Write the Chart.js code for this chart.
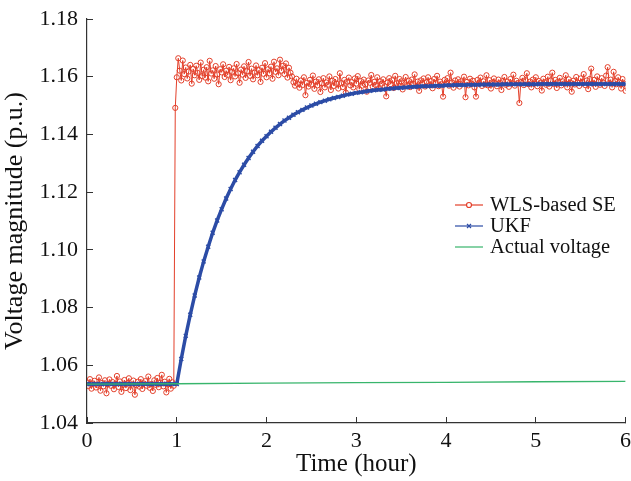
<!DOCTYPE html>
<html>
<head>
<meta charset="utf-8">
<script src="https://cdn.jsdelivr.net/npm/chart.js@4.4.0/dist/chart.umd.min.js"></script>
<style>
html,body{margin:0;padding:0;background:#fff;}
canvas{display:block;}
</style>
</head>
<body>
<canvas id="c" width="631" height="481"></canvas>
<script>
// ---- data ----
const xTicks = [0, 1, 2, 3, 4, 5, 6];
const yTicks = [1.04, 1.06, 1.08, 1.10, 1.12, 1.14, 1.16, 1.18];
const wlsStepHours = 1 / 60;   // one WLS estimate per minute
const ukfStepHours = 0.05;     // UKF samples every 3 minutes

const wlsValues = [
1.0541,1.0528,1.0552,1.0519,1.0537,1.0546,1.0523,1.0531,1.0558,1.0512,
1.0539,1.0527,1.0548,1.0503,1.0534,1.0551,1.0529,1.0542,1.0517,1.0536,
1.0563,1.0525,1.0544,1.0508,1.0532,1.0549,1.0521,1.0538,1.0555,1.0514,
1.0533,1.0547,1.0498,1.0531,1.0543,1.0526,1.0552,1.0518,1.0537,1.0545,
1.0529,1.0561,1.0522,1.0535,1.0511,1.0548,1.0532,1.0556,1.0524,1.0539,
1.0567,1.0527,1.0543,1.0506,1.0535,1.0553,1.0519,1.0541,1.0529,
1.1492,
1.1598,1.1664,1.1621,1.1587,1.1656,1.1609,1.1632,1.1594,1.1618,1.1641,
1.1576,1.1627,1.1605,1.1638,1.1613,1.1589,1.1649,1.1602,1.1624,1.1597,
1.1633,1.1584,1.1655,1.1611,1.1622,1.1593,1.1637,1.1608,1.1574,1.1626,
1.1615,1.1643,1.1599,1.1621,1.1606,1.1634,1.1588,1.1617,1.1629,1.1601,
1.1644,1.1612,1.1579,1.1625,1.1607,1.1636,1.1596,1.1619,1.1651,1.1603,
1.1628,1.1591,1.1614,1.1639,1.1605,1.1623,1.1582,1.1631,1.1610,1.1647,
1.1598,1.1626,1.1612,1.1635,1.1593,1.1652,1.1617,1.1629,1.1605,1.1659,
1.1621,1.1638,1.1609,1.1646,1.1597,1.1631,1.1614,1.1601,
1.1581,1.1569,1.1593,1.1574,1.1562,1.1587,1.1571,1.1598,1.1536,1.1579,
1.1566,1.1589,1.1573,1.1604,1.1558,1.1583,1.1570,1.1591,1.1547,1.1577,
1.1595,1.1563,1.1580,1.1572,1.1601,1.1554,1.1586,1.1568,1.1592,1.1575,
1.1559,1.1612,1.1578,1.1564,1.1589,1.1545,1.1583,1.1597,1.1570,1.1581,
1.1563,1.1594,1.1576,1.1602,1.1557,1.1585,1.1569,1.1590,1.1573,1.1548,
1.1587,1.1579,1.1606,1.1565,1.1582,1.1571,1.1598,1.1560,1.1584,1.1576,
1.1591,1.1567,1.1532,1.1580,1.1595,1.1574,1.1588,1.1561,1.1603,1.1577,
1.1569,1.1592,1.1584,1.1556,1.1579,1.1599,1.1572,1.1586,1.1564,1.1590,
1.1575,1.1608,1.1568,1.1583,1.1551,1.1587,1.1577,1.1594,1.1566,1.1581,
1.1598,1.1571,1.1585,1.1560,1.1592,1.1578,1.1603,1.1567,1.1583,1.1574,
1.1531,1.1589,1.1576,1.1595,1.1569,1.1614,1.1580,1.1562,1.1587,1.1573,
1.1591,1.1566,1.1584,1.1577,1.1600,1.1529,1.1582,1.1570,1.1593,1.1575,
1.1586,1.1563,1.1531,1.1589,1.1578,1.1597,1.1568,1.1584,1.1573,1.1605,
1.1570,1.1588,1.1559,1.1581,1.1594,1.1576,1.1567,1.1590,1.1579,1.1554,
1.1585,1.1599,1.1572,1.1583,1.1565,1.1592,1.1577,1.1607,1.1569,1.1586,
1.1578,1.1509,1.1581,1.1596,1.1571,1.1588,1.1612,1.1574,1.1583,1.1563,
1.1590,1.1576,1.1598,1.1567,1.1585,1.1579,1.1552,1.1593,1.1581,1.1572,
1.1600,1.1566,1.1587,1.1614,1.1575,1.1589,1.1561,1.1583,1.1596,1.1570,
1.1584,1.1577,1.1605,1.1563,1.1591,1.1580,1.1548,1.1586,1.1573,1.1599,
1.1579,1.1568,1.1594,1.1582,1.1609,1.1571,1.1587,1.1557,1.1592,1.1628,
1.1576,1.1589,1.1565,1.1601,1.1583,1.1572,1.1595,1.1580,1.1568,1.1604,
1.1633,1.1578,1.1590,1.1563,1.1617,1.1585,1.1574,1.1598,1.1581,1.1559,
1.1592,1.1576,1.1551
];

const ukfValues = [
1.0535,1.0535,1.0535,1.0535,1.0535,1.0535,1.0535,1.0535,1.0535,1.0535,
1.0535,1.0535,1.0535,1.0535,1.0535,1.0535,1.0535,1.0535,1.0535,1.0535,
1.0535,1.0622,1.0702,1.0775,1.0842,1.0904,1.0960,1.1011,1.1059,1.1102,
1.1141,1.1178,1.1211,1.1242,1.1269,1.1295,1.1318,1.1340,1.1360,1.1378,
1.1394,1.1409,1.1423,1.1436,1.1448,1.1458,1.1468,1.1477,1.1485,1.1493,
1.1500,1.1506,1.1512,1.1517,1.1522,1.1526,1.1530,1.1534,1.1538,1.1541,
1.1544,1.1546,1.1549,1.1551,1.1553,1.1555,1.1556,1.1558,1.1559,1.1561,
1.1562,1.1563,1.1564,1.1565,1.1566,1.1567,1.1567,1.1568,1.1569,1.1569,
1.1570,1.1570,1.1571,1.1571,1.1571,1.1572,1.1572,1.1572,1.1573,1.1573,
1.1573,1.1573,1.1573,1.1574,1.1574,1.1574,1.1574,1.1574,1.1574,1.1574,
1.1574,1.1575,1.1575,1.1575,1.1575,1.1575,1.1575,1.1575,1.1575,1.1575,
1.1575,1.1575,1.1575,1.1575,1.1575,1.1575,1.1575,1.1575,1.1575,1.1575,
1.1575
];

const actualHours  = [0, 1, 2, 3, 4, 5, 6];
const actualValues = [1.0535, 1.0536, 1.0538, 1.0540, 1.0541, 1.0543, 1.0544];

const seriesNames = ['WLS-based SE', 'UKF', 'Actual voltage'];

// ---- build library data ----
const wlsData = wlsValues.map((v, i) => ({x: i * wlsStepHours, y: v}));
const ukfData = ukfValues.map((v, i) => ({x: i * ukfStepHours, y: v}));
const actualData = actualValues.map((v, i) => ({x: actualHours[i], y: v}));

const RED = '#e3402b', BLUE = '#2c4ca6', GREEN = '#38b56c', AXIS = '#333333';
const FONT = '"Liberation Serif", "Times New Roman", serif';

const legendPlugin = {
  id: 'customLegend',
  afterDraw(chart) {
    const ctx = chart.ctx;
    const x0 = 455, x1 = 483, tx = 490;
    const ys = [205, 226, 247];
    ctx.save();
    ctx.font = '20.5px ' + FONT;
    ctx.textBaseline = 'middle';
    chart.data.datasets.forEach((ds, i) => {
      const y = ys[i];
      ctx.strokeStyle = ds.borderColor;
      ctx.lineWidth = 1.2;
      ctx.beginPath(); ctx.moveTo(x0, y); ctx.lineTo(x1, y); ctx.stroke();
      const cx = (x0 + x1) / 2;
      if (ds.pointStyle === 'circle' && ds.pointRadius > 0) {
        ctx.fillStyle = '#fff';
        ctx.beginPath(); ctx.arc(cx, y, 2.5, 0, Math.PI * 2); ctx.fill(); ctx.stroke();
      } else if (ds.pointStyle === 'crossRot') {
        ctx.beginPath();
        ctx.moveTo(cx - 2, y - 2); ctx.lineTo(cx + 2, y + 2);
        ctx.moveTo(cx - 2, y + 2); ctx.lineTo(cx + 2, y - 2);
        ctx.stroke();
      }
      ctx.fillStyle = '#111';
      ctx.fillText(ds.label, tx, y + 1);
    });
    ctx.restore();
  }
};

new Chart(document.getElementById('c'), {
  type: 'line',
  data: {
    datasets: [
      { label: seriesNames[0], data: wlsData, borderColor: RED, borderWidth: 1,
        pointStyle: 'circle', pointRadius: 2.6, pointBorderWidth: 1,
        pointBorderColor: RED, pointBackgroundColor: 'rgba(255,255,255,0)', order: 3 },
      { label: seriesNames[1], data: ukfData, borderColor: BLUE, borderWidth: 3.5,
        pointStyle: 'crossRot', pointRadius: 2.8, pointBorderWidth: 1.4,
        pointBorderColor: BLUE, order: 2 },
      { label: seriesNames[2], data: actualData, borderColor: GREEN, borderWidth: 1.3,
        pointRadius: 0, order: 1 }
    ]
  },
  options: {
    responsive: false,
    animation: false,
    devicePixelRatio: 1,
    layout: { padding: { top: 19, right: 5, left: 0, bottom: 0 } },
    plugins: { legend: { display: false }, tooltip: { enabled: false } },
    scales: {
      x: {
        type: 'linear', min: 0, max: 6,
        afterBuildTicks: s => { s.ticks = xTicks.map(v => ({value: v})); },
        ticks: { color: '#111', font: { family: FONT, size: 22 }, padding: 11 },
        grid: { drawOnChartArea: false, drawTicks: true, tickLength: -6, color: AXIS, lineWidth: 1 },
        border: { display: true, color: AXIS, width: 1.2 },
        title: { display: true, text: 'Time (hour)', color: '#111', font: { family: FONT, size: 25 }, padding: { top: 0, bottom: 2 } },
        afterFit: s => { s.height = 58; s.paddingLeft = 0; s.paddingRight = 0; }
      },
      y: {
        type: 'linear', min: 1.04, max: 1.18,
        afterBuildTicks: s => { s.ticks = yTicks.map(v => ({value: v})); },
        ticks: { color: '#111', font: { family: FONT, size: 22 }, padding: 15,
                 callback: v => v.toFixed(2) },
        grid: { drawOnChartArea: false, drawTicks: true, tickLength: -6, color: AXIS, lineWidth: 1 },
        border: { display: true, color: AXIS, width: 1.2 },
        title: { display: true, text: 'Voltage magnitude (p.u.)', color: '#111', font: { family: FONT, size: 26 }, padding: { top: 0, bottom: 2 } },
        afterFit: s => { s.width = 87; s.paddingTop = 0; s.paddingBottom = 0; }
      }
    }
  },
  plugins: [legendPlugin]
});
</script>
</body>
</html>
